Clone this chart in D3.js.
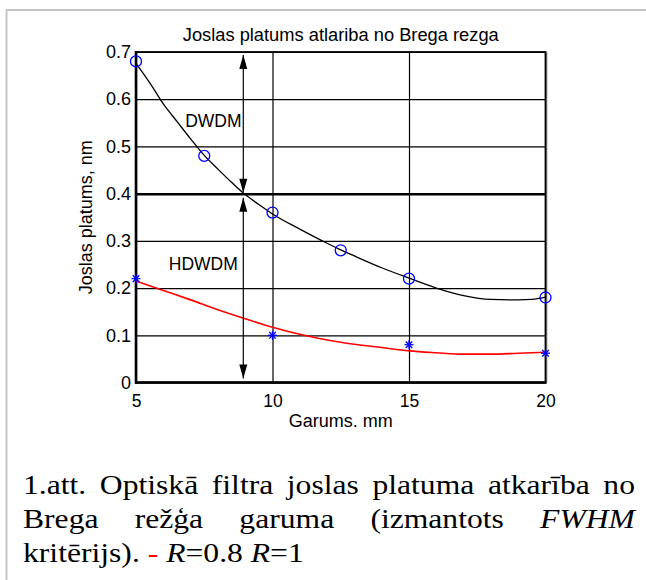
<!DOCTYPE html>
<html><head><meta charset="utf-8">
<script src="https://cdn.jsdelivr.net/npm/d3@7"></script>
<style>body{margin:0;background:#fff}svg{display:block}
.serif{font-family:"Liberation Serif","Times New Roman",Times,"DejaVu Serif",serif;}
.sans{font-family:"Liberation Sans",Arial,Helvetica,sans-serif;}
</style>
</head><body>
<svg id="c" width="646" height="580"></svg>
<script>
// ---- data ----
const title = "Joslas platums atlariba no Brega rezga";
const xLabel = "Garums. mm";
const yLabel = "Joslas platums, nm";
const xTicks = [5, 10, 15, 20];
const yTicks = [0, 0.1, 0.2, 0.3, 0.4, 0.5, 0.6, 0.7];
const circleX = [5, 7.5, 10, 12.5, 15, 20];
const circleY = [0.68, 0.48, 0.36, 0.28, 0.22, 0.18];
const starX = [5, 10, 15, 20];
const starY = [0.22, 0.10, 0.08, 0.062];
const blackCurveX = [5,5.5,6,6.5,7,7.5,8,8.5,9,9.5,10,11,12,12.5,13,14,15,16,17,18,19,19.5,20];
const blackCurveY = [0.676,0.635,0.59,0.553,0.516,0.481,0.452,0.424,0.398,0.377,0.357,0.325,0.295,0.281,0.268,0.243,0.221,0.2,0.184,0.176,0.175,0.176,0.181];
const redCurveX = [5,6,7,8,9,10,11,12,13,14,15,16,17,18,19,20];
const redCurveY = [0.215,0.195,0.175,0.154,0.135,0.117,0.102,0.09,0.081,0.074,0.067,0.063,0.06,0.06,0.062,0.064];
const boundaryY = 0.4;
const arrowX = 8.93;
const regionLabels = [{t:"DWDM", x:6.8, y:0.542}, {t:"HDWDM", x:6.2, y:0.239}];
const captionLine1 = ["1.att.", "Optiskā", "filtra", "joslas", "platuma", "atkarība", "no"];
const captionLine2 = ["Brega", "režģa", "garuma", "(izmantots", "FWHM"];

// ---- layout ----
const svg = d3.select("#c");
const L = 136, R = 545.5, T = 52, B = 382.5;
const x = d3.scaleLinear().domain([5, 20]).range([L, R]);
const y = d3.scaleLinear().domain([0, 0.7]).range([B, T]);

// frame
svg.append("line").attr("x1",6).attr("x2",646).attr("y1",10).attr("y2",10).attr("stroke","#c4c4c4").attr("stroke-width",2);
svg.append("line").attr("x1",6.5).attr("x2",6.5).attr("y1",9).attr("y2",580).attr("stroke","#c4c4c4").attr("stroke-width",2);

// grid
const g = svg.append("g");
g.append("g").attr("transform",`translate(0,${B})`)
 .call(d3.axisBottom(x).tickValues(xTicks).tickSize(-(B-T)).tickFormat(d3.format("d")))
 .call(a=>{a.select(".domain").remove();
   a.selectAll(".tick line").attr("stroke","#000").attr("stroke-width",1.2);
   a.selectAll(".tick text").attr("class","sans").style("font-size","17.5px").attr("fill","#000").attr("dy","1.25em");});
g.append("g").attr("transform",`translate(${L},0)`)
 .call(d3.axisLeft(y).tickValues(yTicks).tickSize(-(R-L)).tickFormat(d=>d===0?"0":d3.format(".1f")(d)))
 .call(a=>{a.select(".domain").remove();
   a.selectAll(".tick line").attr("stroke","#000").attr("stroke-width",d=>d===boundaryY?2.5:1.2);
   a.selectAll(".tick text").attr("class","sans").style("font-size","18px").attr("fill","#000").attr("x",-5);});
svg.selectAll("g[font-family]").attr("font-family",null);

// box
svg.append("line").attr("x1",R+1.5).attr("x2",R+1.5).attr("y1",T).attr("y2",B).attr("stroke","#bbb").attr("stroke-width",1);
svg.append("rect").attr("x",L).attr("y",T).attr("width",R-L).attr("height",B-T).attr("fill","none").attr("stroke","#000").attr("stroke-width",1.8);
svg.append("line").attr("x1",L).attr("x2",L).attr("y1",T-1).attr("y2",B+1.3).attr("stroke","#000").attr("stroke-width",2.6);
svg.append("line").attr("x1",L-1).attr("x2",R+1).attr("y1",B).attr("y2",B).attr("stroke","#000").attr("stroke-width",2.6);

// curves
const line = d3.line().x(d=>x(d[0])).y(d=>y(d[1])).curve(d3.curveMonotoneX);
svg.append("path").attr("d", line(d3.zip(blackCurveX, blackCurveY))).attr("fill","none").attr("stroke","#000").attr("stroke-width",1.3);
svg.append("path").attr("d", line(d3.zip(redCurveX, redCurveY))).attr("fill","none").attr("stroke","#ff0000").attr("stroke-width",1.6);

// arrows
function arrowHead(xp, yp, dir){
  const len = 14, hw = 4;
  svg.append("path").attr("d",`M${xp},${yp} L${xp-hw},${yp-dir*len} L${xp+hw},${yp-dir*len} Z`).attr("fill","#000");
}
const ax = x(arrowX);
svg.append("line").attr("x1",ax).attr("x2",ax).attr("y1",y(0.7)+3).attr("y2",y(boundaryY)-2).attr("stroke","#000").attr("stroke-width",1.2);
arrowHead(ax, y(0.7)+3, -1); arrowHead(ax, y(boundaryY)-1, 1);
svg.append("line").attr("x1",ax).attr("x2",ax).attr("y1",y(boundaryY)+4).attr("y2",y(0)-4).attr("stroke","#000").attr("stroke-width",1.2);
arrowHead(ax, y(boundaryY)+4, -1); arrowHead(ax, y(0)-4, 1);

// region labels
svg.selectAll(".rl").data(regionLabels).join("text").attr("class","sans")
 .attr("x",d=>x(d.x)).attr("y",d=>y(d.y)).style("font-size","17.5px").text(d=>d.t);

// markers
svg.selectAll(".ci").data(d3.zip(circleX, circleY)).join("circle").attr("class","ci")
 .attr("cx",d=>x(d[0])).attr("cy",d=>y(d[1])).attr("r",5.5).attr("fill","none").attr("stroke","#0000ff").attr("stroke-width",1.3);
const st = svg.selectAll(".st").data(d3.zip(starX, starY)).join("g").attr("class","st")
 .attr("transform",d=>`translate(${x(d[0])},${y(d[1])})`);
const s = 4.5, sd = 3.3;
[[-s,0,s,0],[0,-s,0,s],[-sd,-sd,sd,sd],[-sd,sd,sd,-sd]].forEach(p=>{
  st.append("line").attr("x1",p[0]).attr("y1",p[1]).attr("x2",p[2]).attr("y2",p[3]).attr("stroke","#0000ff").attr("stroke-width",1.3);
});

// titles
svg.append("text").attr("class","sans").attr("x",(L+R)/2).attr("y",41).attr("text-anchor","middle").style("font-size","18.3px").text(title);
svg.append("text").attr("class","sans").attr("x",(L+R)/2).attr("y",427).attr("text-anchor","middle").style("font-size","18px").text(xLabel);
svg.append("text").attr("class","sans").attr("transform",`translate(92,${(T+B)/2}) rotate(-90)`).attr("text-anchor","middle").style("font-size","18px").text(yLabel);

// caption
const capL = 23, capR = 635, fs = 28, sx = 1.13;
function justify(words, yb, italicIdx){
  const nodes = words.map((w,i)=>svg.append("text").attr("class","serif").attr("x",0).attr("y",0).style("font-size",fs+"px")
     .style("font-style", italicIdx.includes(i)?"italic":"normal").text(w));
  const widths = nodes.map(n=>n.node().getComputedTextLength()*sx);
  const gap = (capR - capL - d3.sum(widths)) / (words.length - 1);
  let cx = capL;
  nodes.forEach((n,i)=>{ n.attr("transform",`translate(${cx},${yb}) scale(${sx},1)`); cx += widths[i] + gap; });
}
justify(captionLine1, 494, []);
justify(captionLine2, 528, [4]);
const t3 = svg.append("text").attr("class","serif").attr("transform",`translate(${capL},562) scale(${sx},1)`).style("font-size",fs+"px");
t3.append("tspan").text("kritērijs). ");
t3.append("tspan").attr("fill","#ff0000").text("-");
t3.append("tspan").text(" ");
t3.append("tspan").style("font-style","italic").text("R");
t3.append("tspan").text("=0.8 ");
t3.append("tspan").style("font-style","italic").text("R");
t3.append("tspan").text("=1");
</script>
</body></html>
